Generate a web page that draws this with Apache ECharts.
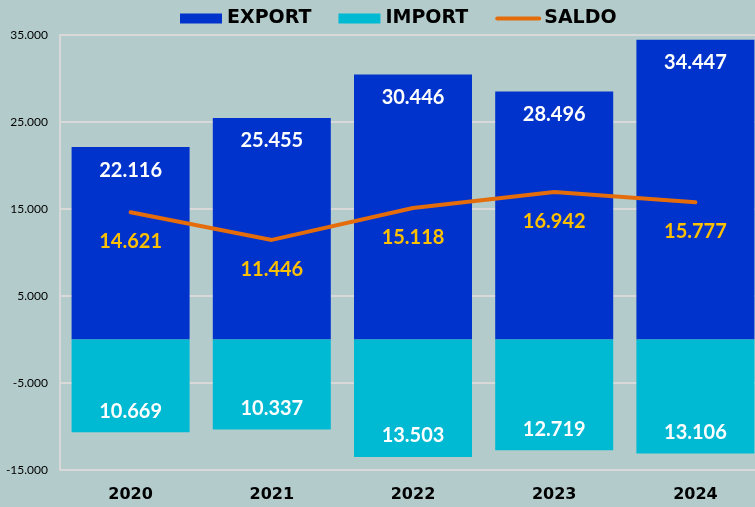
<!DOCTYPE html>
<html>
<head>
<meta charset="utf-8">
<script src="https://cdn.jsdelivr.net/npm/echarts@6/dist/echarts.min.js"></script>
<style>
  html, body { margin: 0; padding: 0; background: #b3cccb; }
  #chart { width: 755px; height: 507px; }
</style>
</head>
<body>
<div id="chart"></div>
<script>
const years = ['2020', '2021', '2022', '2023', '2024'];
const exportVals = [22116, 25455, 30446, 28496, 34447];
const importVals = [-10669, -10337, -13503, -12719, -13106];
const saldoVals = [14621, 11446, 15118, 16942, 15777];

// 12345 -> "12.345"
const fmt = v => {
    let s = String(Math.abs(v)).replace(/\B(?=(\d{3})+(?!\d))/g, '.');
    return v < 0 ? '-' + s : s;
};

const font = 'Lato, "Open Sans", sans-serif';
const boldFont = '"DejaVu Sans", sans-serif';

const chart = echarts.init(document.getElementById('chart'));
chart.setOption({
    backgroundColor: '#b3cccb',
    textStyle: { fontFamily: font },
    legend: {
        top: 4,
        left: 175,
        itemWidth: 42,
        itemHeight: 10,
        itemGap: 27,
        textStyle: { fontSize: 19, fontWeight: 'bold', color: '#000', fontFamily: boldFont },
        data: [
            { name: 'EXPORT', icon: 'rect' },
            { name: 'IMPORT', icon: 'rect' },
            { name: 'SALDO', itemStyle: { opacity: 0 }, lineStyle: { width: 4, cap: 'round' } }
        ]
    },
    grid: { left: 60, width: 706, top: 35, bottom: 37, outerBoundsMode: 'none', containLabel: false },
    xAxis: {
        type: 'category',
        data: years,
        axisLine: { show: false },
        axisTick: { show: false },
        axisLabel: { fontSize: 16, fontWeight: 'bold', color: '#000', margin: 17, fontFamily: boldFont }
    },
    yAxis: {
        type: 'value',
        min: -15000,
        max: 35000,
        interval: 10000,
        axisLine: { show: true, lineStyle: { color: '#d9d9d9', width: 2 } },
        axisTick: { show: false },
        splitLine: { lineStyle: { color: '#d9d9d9', width: 2 } },
        axisLabel: { fontSize: 12, color: '#000', margin: 12, formatter: fmt }
    },
    series: [
        {
            name: 'EXPORT',
            type: 'bar',
            stack: 'tot',
            barWidth: 118,
            data: exportVals,
            itemStyle: { color: '#0033cc' },
            label: {
                show: true,
                position: 'insideTop',
                distance: 13,
                color: '#fff',
                fontSize: 20,
                fontWeight: 'bold',
                formatter: p => fmt(p.value)
            }
        },
        {
            name: 'IMPORT',
            type: 'bar',
            stack: 'tot',
            barWidth: 118,
            data: importVals,
            itemStyle: { color: '#00b9d2' },
            label: {
                show: true,
                position: 'insideBottom',
                distance: 11,
                color: '#fff',
                fontSize: 20,
                fontWeight: 'bold',
                formatter: p => fmt(Math.abs(p.value))
            }
        },
        {
            name: 'SALDO',
            type: 'line',
            data: saldoVals,
            symbol: 'circle',
            symbolSize: 1,
            lineStyle: { color: '#e46c0a', width: 4, cap: 'round' },
            itemStyle: { color: 'rgba(228,108,10,0)' },
            z: 5,
            label: {
                show: true,
                position: 'bottom',
                distance: 19,
                color: '#ffc000',
                fontSize: 20,
                fontWeight: 'bold',
                formatter: p => fmt(p.value)
            }
        }
    ]
});
</script>
</body>
</html>
